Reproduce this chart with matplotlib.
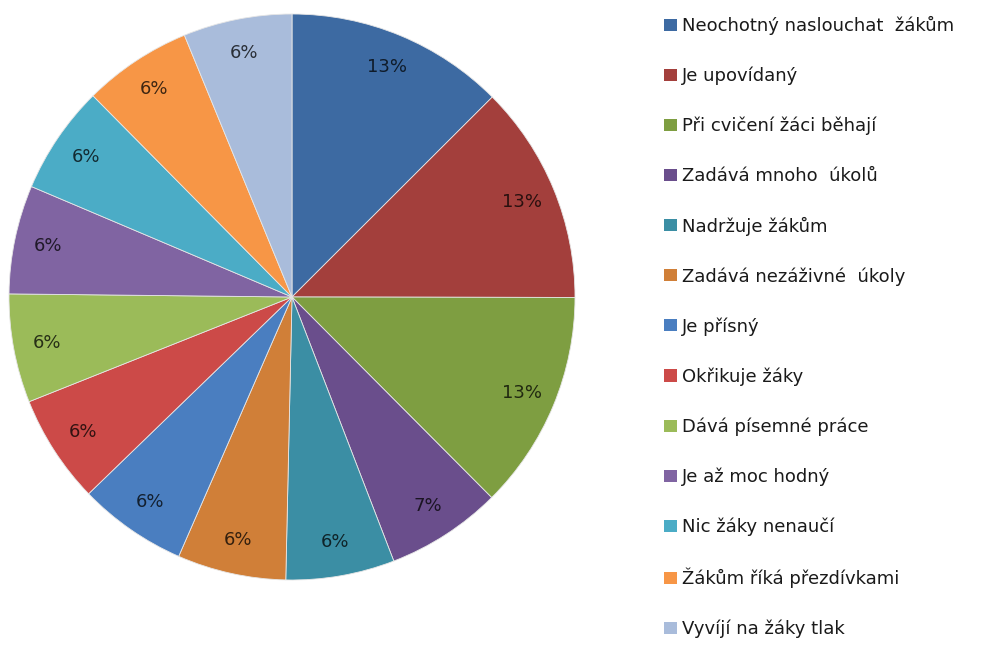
import matplotlib
matplotlib.use("Agg")
import matplotlib.pyplot as plt
from matplotlib.patches import Patch
import matplotlib.colors as mcolors
import numpy as np

categories = [
    "Neochotný naslouchat  žákům",
    "Je upovídaný",
    "Při cvičení žáci běhají",
    "Zadává mnoho  úkolů",
    "Nadržuje žákům",
    "Zadává nezáživné  úkoly",
    "Je přísný",
    "Okřikuje žáky",
    "Dává písemné práce",
    "Je až moc hodný",
    "Nic žáky nenaučí",
    "Žákům říká přezdívkami",
    "Vyvíjí na žáky tlak",
]
# slice shares
values = [12.5, 12.5, 12.5, 6.6, 6.2, 6.2, 6.2, 6.2, 6.2, 6.2, 6.2, 6.2, 6.2]
labels_pct = ["13%", "13%", "13%", "7%", "6%", "6%", "6%", "6%", "6%", "6%", "6%", "6%", "6%"]

colors = ["#3D6AA2", "#A33F3C", "#7E9E41", "#6A4E8C", "#3B8EA4", "#D07F38",
          "#4A7EC0", "#CC4A48", "#9BBB59", "#8064A2", "#4BACC6", "#F79646", "#A9BCDB"]

plt.rcParams['font.family'] = ['DejaVu Sans']

fig = plt.figure(figsize=(9.91, 6.45), dpi=100)
ax = fig.add_axes([9/991, (645-580)/645, 566/991, 566/645])

wedges, _ = ax.pie(values, colors=colors, startangle=90, counterclock=False,
                   radius=1.0, wedgeprops=dict(edgecolor="#e6e6e6", linewidth=0.6))
ax.set_xlim(-1, 1)
ax.set_ylim(-1, 1)
ax.set_aspect('equal')
ax.axis('off')

for w, lab, c in zip(wedges, labels_pct, colors):
    th = np.deg2rad((w.theta1 + w.theta2) / 2)
    r = 0.88
    rgb = np.array(mcolors.to_rgb(c)) * 0.25
    ax.text(r * np.cos(th), r * np.sin(th), lab, ha='center', va='center',
            fontsize=13, color=rgb)

handles = [Patch(facecolor=c, edgecolor='none') for c in colors]
fig.legend(handles, categories, loc='upper left', bbox_to_anchor=(664/991, 1 - 16/645),
           frameon=False, fontsize=13, handlelength=0.7, handleheight=0.65,
           handletextpad=0.3, labelspacing=1.75, borderaxespad=0, borderpad=0,
           labelcolor="#1a1a1a")

fig.savefig("out.png", dpi=100)
